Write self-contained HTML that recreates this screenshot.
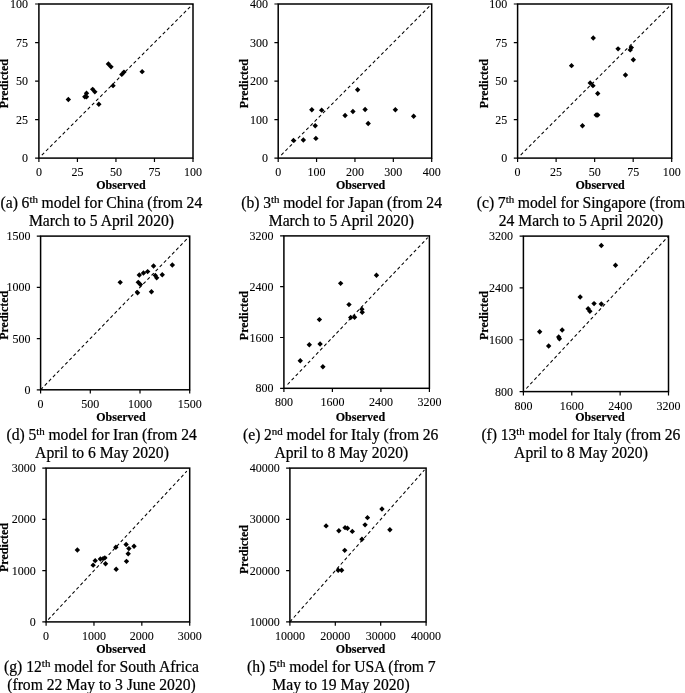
<!DOCTYPE html>
<html><head><meta charset="utf-8"><title>Observed vs predicted</title>
<style>html,body{margin:0;padding:0;background:#fff}svg{display:block;will-change:transform;filter:grayscale(1)}text{font-family:"Liberation Serif",serif;fill:#000;stroke:#000;stroke-width:.22px}.t{font-size:12px;stroke-width:.08px}.l{font-size:12px;font-weight:bold;stroke-width:.2px}.c{font-size:15.65px}.sup{font-size:10.96px}</style></head><body>
<svg width="685" height="693" viewBox="0 0 685 693">
<rect width="685" height="693" fill="#fff"/>
<g id="plot-a">
<line x1="41.83" y1="155.17" x2="193" y2="4" stroke="#000" stroke-width="1.05" stroke-dasharray="3.3 2.6"/>
<path d="M35.1 158.1H38.9M38.9 158.1V161.9M35.1 119.57H38.9M77.42 158.1V161.9M35.1 81.05H38.9M115.95 158.1V161.9M35.1 42.53H38.9M154.47 158.1V161.9M35.1 4H38.9M193 158.1V161.9" stroke="#000" stroke-width="1.2" fill="none"/>
<rect x="38.9" y="4" width="154.1" height="154.1" fill="none" stroke="#000" stroke-width="1.5"/>
<path d="M68.33 96.84l2.7 2.7l-2.7 2.7l-2.7 -2.7zM84.82 94.07l2.7 2.7l-2.7 2.7l-2.7 -2.7zM86.52 94.07l2.7 2.7l-2.7 2.7l-2.7 -2.7zM86.52 90.52l2.7 2.7l-2.7 2.7l-2.7 -2.7zM92.68 86.67l2.7 2.7l-2.7 2.7l-2.7 -2.7zM94.84 89.14l2.7 2.7l-2.7 2.7l-2.7 -2.7zM98.84 101.62l2.7 2.7l-2.7 2.7l-2.7 -2.7zM108.4 61.24l2.7 2.7l-2.7 2.7l-2.7 -2.7zM111.02 64.17l2.7 2.7l-2.7 2.7l-2.7 -2.7zM113.02 82.97l2.7 2.7l-2.7 2.7l-2.7 -2.7zM121.81 71.72l2.7 2.7l-2.7 2.7l-2.7 -2.7zM123.96 69.41l2.7 2.7l-2.7 2.7l-2.7 -2.7zM142.15 68.95l2.7 2.7l-2.7 2.7l-2.7 -2.7z" fill="#000"/>
<text class="t" x="28" y="162.15" text-anchor="end">0</text>
<text class="t" x="38.9" y="176.3" text-anchor="middle">0</text>
<text class="t" x="28" y="123.62" text-anchor="end">25</text>
<text class="t" x="77.42" y="176.3" text-anchor="middle">25</text>
<text class="t" x="28" y="85.1" text-anchor="end">50</text>
<text class="t" x="115.95" y="176.3" text-anchor="middle">50</text>
<text class="t" x="28" y="46.58" text-anchor="end">75</text>
<text class="t" x="154.47" y="176.3" text-anchor="middle">75</text>
<text class="t" x="28" y="8.05" text-anchor="end">100</text>
<text class="t" x="193" y="176.3" text-anchor="middle">100</text>
<text class="l" x="120.9" y="188.8" text-anchor="middle">Observed</text>
<text class="l" transform="translate(7.8 83.6) rotate(-90)" text-anchor="middle">Predicted</text>
<text class="c" x="101.4" y="208.3" text-anchor="middle" style="word-spacing:-0.25px">(a) 6<tspan class="sup" dy="-5.1">th</tspan><tspan dy="5.1"> model for China (from 24</tspan></text>
<text class="c" x="101.5" y="225.8" text-anchor="middle">March to 5 April 2020)</text>
</g>
<g id="plot-b">
<line x1="281.27" y1="155.02" x2="430.63" y2="5.08" stroke="#000" stroke-width="1.05" stroke-dasharray="3.3 2.6"/>
<path d="M274.4 158.1H278.2M278.2 158.1V161.9M274.4 119.57H278.2M316.57 158.1V161.9M274.4 81.05H278.2M354.95 158.1V161.9M274.4 42.53H278.2M393.32 158.1V161.9M274.4 4H278.2M431.7 158.1V161.9" stroke="#000" stroke-width="1.2" fill="none"/>
<rect x="278.2" y="4" width="153.5" height="154.1" fill="none" stroke="#000" stroke-width="1.5"/>
<path d="M293.47 137.72l2.7 2.7l-2.7 2.7l-2.7 -2.7zM303.34 137.37l2.7 2.7l-2.7 2.7l-2.7 -2.7zM315.88 135.68l2.7 2.7l-2.7 2.7l-2.7 -2.7zM315.23 123.08l2.7 2.7l-2.7 2.7l-2.7 -2.7zM311.82 107.09l2.7 2.7l-2.7 2.7l-2.7 -2.7zM321.68 107.44l2.7 2.7l-2.7 2.7l-2.7 -2.7zM345.09 112.87l2.7 2.7l-2.7 2.7l-2.7 -2.7zM352.92 108.78l2.7 2.7l-2.7 2.7l-2.7 -2.7zM357.64 87.02l2.7 2.7l-2.7 2.7l-2.7 -2.7zM365.12 106.74l2.7 2.7l-2.7 2.7l-2.7 -2.7zM368.19 120.73l2.7 2.7l-2.7 2.7l-2.7 -2.7zM395.36 107.09l2.7 2.7l-2.7 2.7l-2.7 -2.7zM413.66 113.56l2.7 2.7l-2.7 2.7l-2.7 -2.7z" fill="#000"/>
<text class="t" x="267.9" y="162.15" text-anchor="end">0</text>
<text class="t" x="278.2" y="176.3" text-anchor="middle">0</text>
<text class="t" x="267.9" y="123.62" text-anchor="end">100</text>
<text class="t" x="316.57" y="176.3" text-anchor="middle">100</text>
<text class="t" x="267.9" y="85.1" text-anchor="end">200</text>
<text class="t" x="354.95" y="176.3" text-anchor="middle">200</text>
<text class="t" x="267.9" y="46.58" text-anchor="end">300</text>
<text class="t" x="393.32" y="176.3" text-anchor="middle">300</text>
<text class="t" x="267.9" y="8.05" text-anchor="end">400</text>
<text class="t" x="431.7" y="176.3" text-anchor="middle">400</text>
<text class="l" x="360.6" y="188.8" text-anchor="middle">Observed</text>
<text class="l" transform="translate(248 83.6) rotate(-90)" text-anchor="middle">Predicted</text>
<text class="c" x="341.65" y="208.3" text-anchor="middle" style="word-spacing:-0.25px">(b) 3<tspan class="sup" dy="-5.1">th</tspan><tspan dy="5.1"> model for Japan (from 24</tspan></text>
<text class="c" x="341.3" y="225.8" text-anchor="middle">March to 5 April 2020)</text>
</g>
<g id="plot-c">
<line x1="520.68" y1="155.02" x2="671.7" y2="4" stroke="#000" stroke-width="1.05" stroke-dasharray="3.3 2.6"/>
<path d="M513.8 158.1H517.6M517.6 158.1V161.9M513.8 119.57H517.6M556.12 158.1V161.9M513.8 81.05H517.6M594.65 158.1V161.9M513.8 42.53H517.6M633.18 158.1V161.9M513.8 4H517.6M671.7 158.1V161.9" stroke="#000" stroke-width="1.2" fill="none"/>
<rect x="517.6" y="4" width="154.1" height="154.1" fill="none" stroke="#000" stroke-width="1.5"/>
<path d="M571.54 62.94l2.7 2.7l-2.7 2.7l-2.7 -2.7zM582.48 123.04l2.7 2.7l-2.7 2.7l-2.7 -2.7zM593.26 35.36l2.7 2.7l-2.7 2.7l-2.7 -2.7zM590.18 80.2l2.7 2.7l-2.7 2.7l-2.7 -2.7zM592.95 82.97l2.7 2.7l-2.7 2.7l-2.7 -2.7zM597.73 90.83l2.7 2.7l-2.7 2.7l-2.7 -2.7zM596.19 112.25l2.7 2.7l-2.7 2.7l-2.7 -2.7zM597.73 112.25l2.7 2.7l-2.7 2.7l-2.7 -2.7zM618.07 46.14l2.7 2.7l-2.7 2.7l-2.7 -2.7zM625.47 72.34l2.7 2.7l-2.7 2.7l-2.7 -2.7zM630.25 47.22l2.7 2.7l-2.7 2.7l-2.7 -2.7zM631.33 44.91l2.7 2.7l-2.7 2.7l-2.7 -2.7zM633.33 57.08l2.7 2.7l-2.7 2.7l-2.7 -2.7z" fill="#000"/>
<text class="t" x="507.3" y="162.15" text-anchor="end">0</text>
<text class="t" x="517.6" y="176.3" text-anchor="middle">0</text>
<text class="t" x="507.3" y="123.62" text-anchor="end">25</text>
<text class="t" x="556.12" y="176.3" text-anchor="middle">25</text>
<text class="t" x="507.3" y="85.1" text-anchor="end">50</text>
<text class="t" x="594.65" y="176.3" text-anchor="middle">50</text>
<text class="t" x="507.3" y="46.58" text-anchor="end">75</text>
<text class="t" x="633.18" y="176.3" text-anchor="middle">75</text>
<text class="t" x="507.3" y="8.05" text-anchor="end">100</text>
<text class="t" x="671.7" y="176.3" text-anchor="middle">100</text>
<text class="l" x="600.1" y="188.8" text-anchor="middle">Observed</text>
<text class="l" transform="translate(487.7 83.6) rotate(-90)" text-anchor="middle">Predicted</text>
<text class="c" x="581" y="208.3" text-anchor="middle" style="word-spacing:-0.25px">(c) 7<tspan class="sup" dy="-5.1">th</tspan><tspan dy="5.1"> model for Singapore (from</tspan></text>
<text class="c" x="581" y="225.8" text-anchor="middle">24 March to 5 April 2020)</text>
</g>
<g id="plot-d">
<line x1="40.6" y1="389.8" x2="189.7" y2="236.1" stroke="#000" stroke-width="1.05" stroke-dasharray="3.3 2.6"/>
<path d="M36.8 389.8H40.6M40.6 389.8V393.6M36.8 338.57H40.6M90.3 389.8V393.6M36.8 287.33H40.6M140 389.8V393.6M36.8 236.1H40.6M189.7 389.8V393.6" stroke="#000" stroke-width="1.2" fill="none"/>
<rect x="40.6" y="236.1" width="149.1" height="153.7" fill="none" stroke="#000" stroke-width="1.5"/>
<path d="M120.19 279.66l2.7 2.7l-2.7 2.7l-2.7 -2.7zM137.56 290.09l2.7 2.7l-2.7 2.7l-2.7 -2.7zM138.26 279.66l2.7 2.7l-2.7 2.7l-2.7 -2.7zM140.35 281.76l2.7 2.7l-2.7 2.7l-2.7 -2.7zM139.3 272.36l2.7 2.7l-2.7 2.7l-2.7 -2.7zM143.48 270.29l2.7 2.7l-2.7 2.7l-2.7 -2.7zM147.65 268.88l2.7 2.7l-2.7 2.7l-2.7 -2.7zM151.47 289.05l2.7 2.7l-2.7 2.7l-2.7 -2.7zM153.56 263.32l2.7 2.7l-2.7 2.7l-2.7 -2.7zM155.29 272.71l2.7 2.7l-2.7 2.7l-2.7 -2.7zM156.68 275.14l2.7 2.7l-2.7 2.7l-2.7 -2.7zM162.25 272.01l2.7 2.7l-2.7 2.7l-2.7 -2.7zM172.32 262.28l2.7 2.7l-2.7 2.7l-2.7 -2.7z" fill="#000"/>
<text class="t" x="30.4" y="393.85" text-anchor="end">0</text>
<text class="t" x="40.6" y="408" text-anchor="middle">0</text>
<text class="t" x="30.4" y="342.62" text-anchor="end">500</text>
<text class="t" x="90.3" y="408" text-anchor="middle">500</text>
<text class="t" x="30.4" y="291.38" text-anchor="end">1000</text>
<text class="t" x="140" y="408" text-anchor="middle">1000</text>
<text class="t" x="30.4" y="240.15" text-anchor="end">1500</text>
<text class="t" x="189.7" y="408" text-anchor="middle">1500</text>
<text class="l" x="120.9" y="420.6" text-anchor="middle">Observed</text>
<text class="l" transform="translate(7.8 315.3) rotate(-90)" text-anchor="middle">Predicted</text>
<text class="c" x="101.65" y="440" text-anchor="middle" style="word-spacing:-0.25px">(d) 5<tspan class="sup" dy="-5.1">th</tspan><tspan dy="5.1"> model for Iran (from 24</tspan></text>
<text class="c" x="102" y="457.5" text-anchor="middle">April to 6 May 2020)</text>
</g>
<g id="plot-e">
<line x1="287.54" y1="384.49" x2="427.65" y2="237.73" stroke="#000" stroke-width="1.05" stroke-dasharray="3.3 2.6"/>
<path d="M280.1 388.3H283.9M283.9 388.3V392.1M280.1 337.5H283.9M332.4 388.3V392.1M280.1 286.7H283.9M380.9 388.3V392.1M280.1 235.9H283.9M429.4 388.3V392.1" stroke="#000" stroke-width="1.2" fill="none"/>
<rect x="283.9" y="235.9" width="145.5" height="152.4" fill="none" stroke="#000" stroke-width="1.5"/>
<path d="M300.26 358.05l2.7 2.7l-2.7 2.7l-2.7 -2.7zM309.3 342.01l2.7 2.7l-2.7 2.7l-2.7 -2.7zM320.09 341.31l2.7 2.7l-2.7 2.7l-2.7 -2.7zM319.4 316.89l2.7 2.7l-2.7 2.7l-2.7 -2.7zM322.88 363.98l2.7 2.7l-2.7 2.7l-2.7 -2.7zM340.64 280.63l2.7 2.7l-2.7 2.7l-2.7 -2.7zM348.99 301.91l2.7 2.7l-2.7 2.7l-2.7 -2.7zM350.71 314.8l2.7 2.7l-2.7 2.7l-2.7 -2.7zM354.56 314.48l2.7 2.7l-2.7 2.7l-2.7 -2.7zM361.86 306.43l2.7 2.7l-2.7 2.7l-2.7 -2.7zM362.22 309.59l2.7 2.7l-2.7 2.7l-2.7 -2.7zM376.47 272.6l2.7 2.7l-2.7 2.7l-2.7 -2.7z" fill="#000"/>
<text class="t" x="273.6" y="392.35" text-anchor="end">800</text>
<text class="t" x="283.9" y="406" text-anchor="middle">800</text>
<text class="t" x="273.6" y="341.55" text-anchor="end">1600</text>
<text class="t" x="332.4" y="406" text-anchor="middle">1600</text>
<text class="t" x="273.6" y="290.75" text-anchor="end">2400</text>
<text class="t" x="380.9" y="406" text-anchor="middle">2400</text>
<text class="t" x="273.6" y="239.95" text-anchor="end">3200</text>
<text class="t" x="429.4" y="406" text-anchor="middle">3200</text>
<text class="l" x="360.4" y="420.6" text-anchor="middle">Observed</text>
<text class="l" transform="translate(248.4 315.6) rotate(-90)" text-anchor="middle">Predicted</text>
<text class="c" x="340.7" y="440" text-anchor="middle" style="word-spacing:-0.25px">(e) 2<tspan class="sup" dy="-5.1">nd</tspan><tspan dy="5.1"> model for Italy (from 26</tspan></text>
<text class="c" x="341.4" y="457.5" text-anchor="middle">April to 8 May 2020)</text>
</g>
<g id="plot-f">
<line x1="526.3" y1="388.49" x2="668.5" y2="236.1" stroke="#000" stroke-width="1.05" stroke-dasharray="3.3 2.6"/>
<path d="M519.6 391.6H523.4M523.4 391.6V395.4M519.6 339.77H523.4M571.77 391.6V395.4M519.6 287.93H523.4M620.13 391.6V395.4M519.6 236.1H523.4M668.5 391.6V395.4" stroke="#000" stroke-width="1.2" fill="none"/>
<rect x="523.4" y="236.1" width="145.1" height="155.5" fill="none" stroke="#000" stroke-width="1.5"/>
<path d="M539.66 329.06l2.7 2.7l-2.7 2.7l-2.7 -2.7zM548.67 343.35l2.7 2.7l-2.7 2.7l-2.7 -2.7zM558.71 334.28l2.7 2.7l-2.7 2.7l-2.7 -2.7zM559.42 336.03l2.7 2.7l-2.7 2.7l-2.7 -2.7zM562.18 327.35l2.7 2.7l-2.7 2.7l-2.7 -2.7zM580.19 294.3l2.7 2.7l-2.7 2.7l-2.7 -2.7zM588.15 306.1l2.7 2.7l-2.7 2.7l-2.7 -2.7zM589.89 308.56l2.7 2.7l-2.7 2.7l-2.7 -2.7zM594.05 300.91l2.7 2.7l-2.7 2.7l-2.7 -2.7zM601.32 301.24l2.7 2.7l-2.7 2.7l-2.7 -2.7zM601.32 242.79l2.7 2.7l-2.7 2.7l-2.7 -2.7zM615.51 262.62l2.7 2.7l-2.7 2.7l-2.7 -2.7z" fill="#000"/>
<text class="t" x="512.9" y="395.65" text-anchor="end">800</text>
<text class="t" x="523.4" y="409.8" text-anchor="middle">800</text>
<text class="t" x="512.9" y="343.82" text-anchor="end">1600</text>
<text class="t" x="571.77" y="409.8" text-anchor="middle">1600</text>
<text class="t" x="512.9" y="291.98" text-anchor="end">2400</text>
<text class="t" x="620.13" y="409.8" text-anchor="middle">2400</text>
<text class="t" x="512.9" y="240.15" text-anchor="end">3200</text>
<text class="t" x="668.5" y="409.8" text-anchor="middle">3200</text>
<text class="l" x="599.9" y="420.6" text-anchor="middle">Observed</text>
<text class="l" transform="translate(487.7 315.5) rotate(-90)" text-anchor="middle">Predicted</text>
<text class="c" x="580.9" y="440" text-anchor="middle" style="word-spacing:-0.25px">(f) 13<tspan class="sup" dy="-5.1">th</tspan><tspan dy="5.1"> model for Italy (from 26</tspan></text>
<text class="c" x="581" y="457.5" text-anchor="middle">April to 8 May 2020)</text>
</g>
<g id="plot-g">
<line x1="48.25" y1="619.59" x2="186.83" y2="471.18" stroke="#000" stroke-width="1.05" stroke-dasharray="3.3 2.6"/>
<path d="M42.3 621.9H46.1M46.1 621.9V625.7M42.3 570.63H46.1M93.97 621.9V625.7M42.3 519.37H46.1M141.83 621.9V625.7M42.3 468.1H46.1M189.7 621.9V625.7" stroke="#000" stroke-width="1.2" fill="none"/>
<rect x="46.1" y="468.1" width="143.6" height="153.8" fill="none" stroke="#000" stroke-width="1.5"/>
<path d="M77.36 547.29l2.7 2.7l-2.7 2.7l-2.7 -2.7zM93.15 562.45l2.7 2.7l-2.7 2.7l-2.7 -2.7zM95.21 557.96l2.7 2.7l-2.7 2.7l-2.7 -2.7zM100.38 556.24l2.7 2.7l-2.7 2.7l-2.7 -2.7zM103.11 555.89l2.7 2.7l-2.7 2.7l-2.7 -2.7zM104.83 555.22l2.7 2.7l-2.7 2.7l-2.7 -2.7zM105.54 561.06l2.7 2.7l-2.7 2.7l-2.7 -2.7zM116.18 566.56l2.7 2.7l-2.7 2.7l-2.7 -2.7zM115.84 544.56l2.7 2.7l-2.7 2.7l-2.7 -2.7zM126.13 541.79l2.7 2.7l-2.7 2.7l-2.7 -2.7zM126.49 558.65l2.7 2.7l-2.7 2.7l-2.7 -2.7zM128.19 551.07l2.7 2.7l-2.7 2.7l-2.7 -2.7zM128.89 545.91l2.7 2.7l-2.7 2.7l-2.7 -2.7zM134.03 543.5l2.7 2.7l-2.7 2.7l-2.7 -2.7z" fill="#000"/>
<text class="t" x="35.8" y="625.95" text-anchor="end">0</text>
<text class="t" x="46.1" y="639.5" text-anchor="middle">0</text>
<text class="t" x="35.8" y="574.68" text-anchor="end">1000</text>
<text class="t" x="93.97" y="639.5" text-anchor="middle">1000</text>
<text class="t" x="35.8" y="523.42" text-anchor="end">2000</text>
<text class="t" x="141.83" y="639.5" text-anchor="middle">2000</text>
<text class="t" x="35.8" y="472.15" text-anchor="end">3000</text>
<text class="t" x="189.7" y="639.5" text-anchor="middle">3000</text>
<text class="l" x="120.9" y="652.8" text-anchor="middle">Observed</text>
<text class="l" transform="translate(7.8 547.5) rotate(-90)" text-anchor="middle">Predicted</text>
<text class="c" x="101.5" y="672.3" text-anchor="middle">(g) 12<tspan class="sup" dy="-5.1">th</tspan><tspan dy="5.1"> model for South Africa</tspan></text>
<text class="c" x="101.5" y="689.8" text-anchor="middle">(from 22 May to 3 June 2020)</text>
</g>
<g id="plot-h">
<line x1="289.9" y1="621.9" x2="424.47" y2="469.95" stroke="#000" stroke-width="1.05" stroke-dasharray="3.3 2.6"/>
<path d="M286.1 621.9H289.9M289.9 621.9V625.7M286.1 570.63H289.9M335.3 621.9V625.7M286.1 519.37H289.9M380.7 621.9V625.7M286.1 468.1H289.9M426.1 621.9V625.7" stroke="#000" stroke-width="1.2" fill="none"/>
<rect x="289.9" y="468.1" width="136.2" height="153.8" fill="none" stroke="#000" stroke-width="1.5"/>
<path d="M326.1 523.2l2.7 2.7l-2.7 2.7l-2.7 -2.7zM338.86 528.02l2.7 2.7l-2.7 2.7l-2.7 -2.7zM338.17 567.59l2.7 2.7l-2.7 2.7l-2.7 -2.7zM341.62 567.59l2.7 2.7l-2.7 2.7l-2.7 -2.7zM344.73 547.63l2.7 2.7l-2.7 2.7l-2.7 -2.7zM345.07 524.93l2.7 2.7l-2.7 2.7l-2.7 -2.7zM347.48 525.61l2.7 2.7l-2.7 2.7l-2.7 -2.7zM352.31 528.71l2.7 2.7l-2.7 2.7l-2.7 -2.7zM361.96 536.62l2.7 2.7l-2.7 2.7l-2.7 -2.7zM365.07 522.17l2.7 2.7l-2.7 2.7l-2.7 -2.7zM367.48 514.94l2.7 2.7l-2.7 2.7l-2.7 -2.7zM381.96 506.35l2.7 2.7l-2.7 2.7l-2.7 -2.7zM389.89 526.99l2.7 2.7l-2.7 2.7l-2.7 -2.7z" fill="#000"/>
<text class="t" x="279.7" y="625.95" text-anchor="end">10000</text>
<text class="t" x="289.9" y="639.5" text-anchor="middle">10000</text>
<text class="t" x="279.7" y="574.68" text-anchor="end">20000</text>
<text class="t" x="335.3" y="639.5" text-anchor="middle">20000</text>
<text class="t" x="279.7" y="523.42" text-anchor="end">30000</text>
<text class="t" x="380.7" y="639.5" text-anchor="middle">30000</text>
<text class="t" x="279.7" y="472.15" text-anchor="end">40000</text>
<text class="t" x="426.1" y="639.5" text-anchor="middle">40000</text>
<text class="l" x="360.5" y="652.8" text-anchor="middle">Observed</text>
<text class="l" transform="translate(248.3 549.5) rotate(-90)" text-anchor="middle">Predicted</text>
<text class="c" x="341.3" y="672.3" text-anchor="middle" style="word-spacing:-0.1px">(h) 5<tspan class="sup" dy="-5.1">th</tspan><tspan dy="5.1"> model for USA (from 7</tspan></text>
<text class="c" x="341" y="689.8" text-anchor="middle">May to 19 May 2020)</text>
</g>
</svg></body></html>
